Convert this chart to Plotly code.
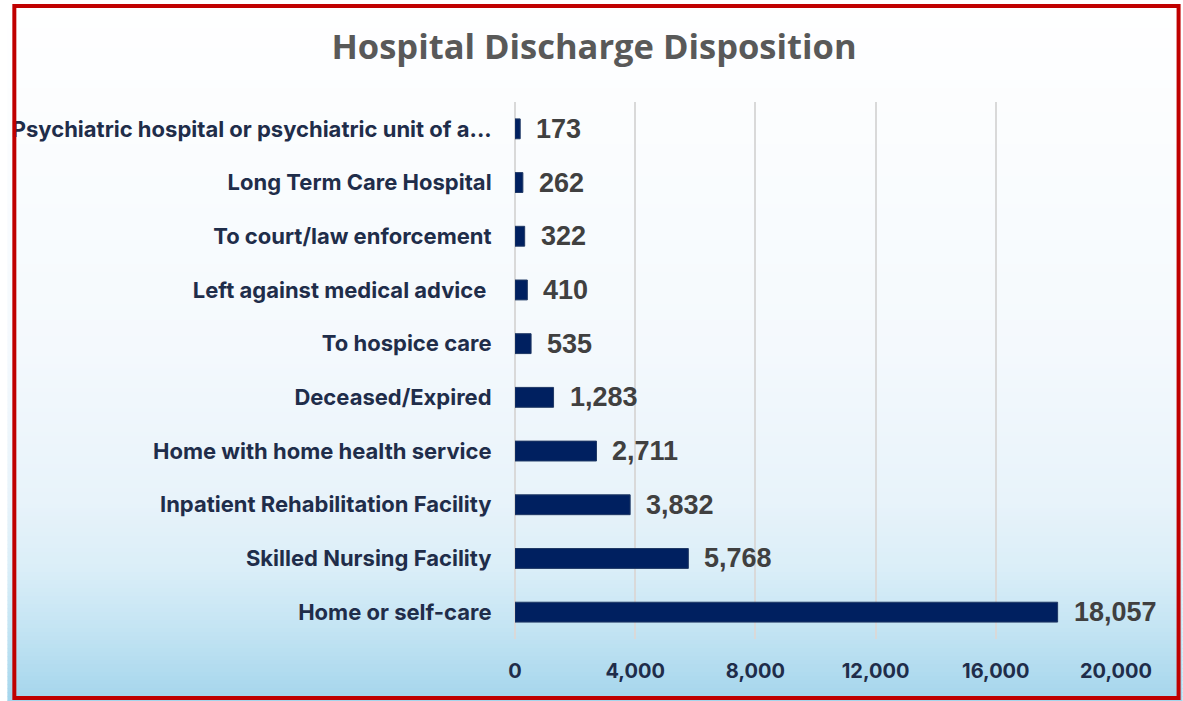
import plotly.graph_objects as go

categories = [
    "Home or self-care",
    "Skilled Nursing Facility",
    "Inpatient Rehabilitation Facility",
    "Home with home health service",
    "Deceased/Expired",
    "To hospice care",
    "Left against medical advice ",
    "To court/law enforcement",
    "Long Term Care Hospital",
    "Psychiatric hospital or psychiatric unit of a...",
]
values = [18057, 5768, 3832, 2711, 1283, 535, 410, 322, 262, 173]
tick_vals = [0, 4000, 8000, 12000, 16000, 20000]
tick_text = ["0", "4,000", "8,000", "12,000", "16,000", "20,000"]

W, H = 1183, 701
L, R, T, B = 511, 1116, 102, 639  # plot area pixel bounds


def px_x(p):
    return (p - L) / (R - L)


def px_y(p):
    return (B - p) / (B - T)


fig = go.Figure()
fig.add_trace(go.Bar(
    y=categories, x=values, orientation="h",
    marker=dict(color="#002060", line=dict(color="#1F3864", width=1)),
    width=0.37, showlegend=False, hoverinfo="x+y",
))

# data labels
annotations = []
for c, v in zip(categories, values):
    annotations.append(dict(
        x=v, y=c, xref="x", yref="y", text=f"<b>{v:,}</b>", showarrow=False,
        xanchor="left", yanchor="middle", xshift=14,
        font=dict(family="Liberation Sans, Arial", size=27, color="#404040"),
    ))

# gradient background
stops = [(0, (255, 255, 255)), (350, (244, 249, 253)), (500, (232, 243, 250)),
         (570, (218, 238, 248)), (630, (195, 228, 243)), (701, (164, 213, 236))]


def col_at(p):
    for (p0, c0), (p1, c1) in zip(stops[:-1], stops[1:]):
        if p0 <= p <= p1:
            t = (p - p0) / (p1 - p0)
            return "rgb(%d,%d,%d)" % tuple(round(a + (b - a) * t) for a, b in zip(c0, c1))
    return "rgb(%d,%d,%d)" % stops[-1][1]


shapes = []
step = 4
for p in range(0, H, step):
    shapes.append(dict(
        type="rect", xref="paper", yref="paper", layer="below",
        x0=px_x(0), x1=px_x(W), y0=px_y(p + step + 0.5), y1=px_y(p),
        fillcolor=col_at(p + step / 2), line=dict(width=0),
    ))
shapes.append(dict(
    type="rect", xref="paper", yref="paper", layer="above",
    x0=px_x(7), x1=px_x(1179), y0=px_y(698), y1=px_y(6),
    line=dict(color="#C00000", width=4), fillcolor="rgba(0,0,0,0)",
))

fig.update_layout(
    width=W, height=H,
    margin=dict(l=L, r=W - R, t=T, b=H - B, pad=0),
    paper_bgcolor="white", plot_bgcolor="rgba(0,0,0,0)",
    title=dict(text="<b>Hospital Discharge Disposition</b>", x=594 / W, xref="container",
               xanchor="center", y=1 - 47 / H, yanchor="middle",
               font=dict(family="Open Sans", size=34.5, color="#595959")),
    shapes=shapes, annotations=annotations,
)

fig.update_xaxes(
    range=[0, 20000], tickvals=tick_vals, ticktext=tick_text,
    showgrid=True, gridcolor="#D9D9D9", gridwidth=1.5,
    zeroline=True, zerolinecolor="#D9D9D9", zerolinewidth=1.5,
    ticks="outside", ticklen=14, tickcolor="rgba(0,0,0,0)",
    tickfont=dict(family="Inter", size=20, color="#1F2D4A", weight="bold"),
    showline=False, fixedrange=True,
)
fig.update_yaxes(
    range=[-0.5, 9.5], showgrid=False, zeroline=False,
    ticks="outside", ticklen=18, tickcolor="rgba(0,0,0,0)",
    tickfont=dict(family="Inter", size=22, color="#1F2D4A", weight="bold"),
    showline=False, fixedrange=True,
)

fig.write_html("out.html", config={"displayModeBar": False},
               post_script="document.body.style.margin='0';")
